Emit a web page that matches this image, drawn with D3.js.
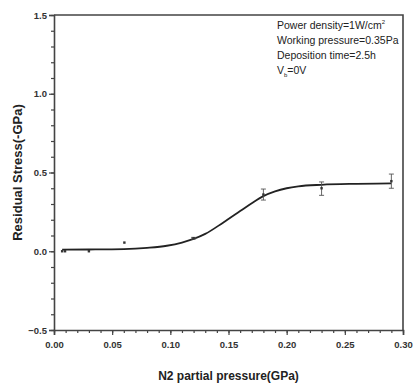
<!DOCTYPE html>
<html>
<head>
<meta charset="utf-8">
<script src="https://cdn.jsdelivr.net/npm/d3@7"></script>
<style>
  body { margin: 0; background: #fff; }
  svg { font-family: "Liberation Sans", Arial, sans-serif; }
  .tick text { font-size: 9.5px; font-weight: bold; fill: #333; }
</style>
</head>
<body>
<div id="vis"></div>
<script>
// measured points
let pointX = [0.007, 0.0095, 0.03, 0.0605, 0.12, 0.18, 0.23, 0.29];
let pointY = [0.0, 0.0, 0.0, 0.055, 0.083, 0.36, 0.40, 0.445];
let errLow = [0, 0, 0, 0, 0.005, 0.035, 0.045, 0.045];
let errHigh = [0, 0, 0, 0, 0.005, 0.035, 0.04, 0.045];

// fitted curve
let fitX = [0.007, 0.03, 0.06, 0.08, 0.097, 0.11, 0.12, 0.13, 0.145, 0.16, 0.17, 0.18, 0.19, 0.2, 0.21, 0.23, 0.26, 0.29];
let fitY = [0.01, 0.011, 0.014, 0.022, 0.035, 0.055, 0.078, 0.11, 0.18, 0.255, 0.305, 0.35, 0.38, 0.40, 0.412, 0.422, 0.428, 0.431];

let xTicks = [0.00, 0.05, 0.10, 0.15, 0.20, 0.25, 0.30];
let yTicks = [-0.5, 0.0, 0.5, 1.0, 1.5];

// annotation lines: [main text, sub/superscript, rest]
let notes = [
    ['Power density=1W/cm', '2', '', 'sup'],
    ['Working pressure=0.35Pa', '', '', ''],
    ['Deposition time=2.5h', '', '', ''],
    ['V', 'b', '=0V', 'sub']
];

let width = 414, height = 390;
let margin = {top: 15, right: 11, bottom: 60, left: 54};

let svg = d3.select('#vis')
    .append('svg')
    .attr('width', width)
    .attr('height', height);

let xScale = d3.scaleLinear()
    .domain([0, 0.3])
    .range([margin.left, width - margin.right]);

let yScale = d3.scaleLinear()
    .domain([-0.5, 1.5])
    .range([height - margin.bottom, margin.top]);

// minor ticks
let xMinor = d3.axisBottom(xScale)
    .tickValues(d3.range(0, 0.3001, 0.01))
    .tickSize(3)
    .tickFormat('');
let yMinor = d3.axisLeft(yScale)
    .tickValues(d3.range(-0.5, 1.5001, 0.1))
    .tickSize(3)
    .tickFormat('');

svg.append('g')
    .attr('transform', 'translate(0,' + (height - margin.bottom) + ')')
    .call(xMinor)
    .call(g => g.select('.domain').remove());
svg.append('g')
    .attr('transform', 'translate(' + margin.left + ',0)')
    .call(yMinor)
    .call(g => g.select('.domain').remove());

// major ticks
let xAxis = d3.axisBottom(xScale)
    .tickValues(xTicks)
    .tickSize(5)
    .tickPadding(6)
    .tickFormat(d3.format('.2f'));
let yAxis = d3.axisLeft(yScale)
    .tickValues(yTicks)
    .tickSize(5)
    .tickPadding(2)
    .tickFormat(d3.format('.1f'));

svg.append('g')
    .attr('transform', 'translate(0,' + (height - margin.bottom) + ')')
    .call(xAxis);
svg.append('g')
    .attr('transform', 'translate(' + margin.left + ',0)')
    .call(yAxis);

svg.selectAll('.domain').attr('stroke', '#444').attr('stroke-width', 1.6);
svg.selectAll('.tick line').attr('stroke', '#444').attr('stroke-width', 1.2);

// frame top/right
svg.append('path')
    .attr('d', 'M' + margin.left + ',' + yScale(1.5) + 'H' + xScale(0.3) + 'V' + yScale(-0.5))
    .attr('fill', 'none')
    .attr('stroke', '#444')
    .attr('stroke-width', 1.6);

// fit curve
let line = d3.line()
    .x(d => xScale(d[0]))
    .y(d => yScale(d[1]))
    .curve(d3.curveMonotoneX);

svg.append('path')
    .datum(fitX.map((x, i) => [x, fitY[i]]))
    .attr('d', line)
    .attr('fill', 'none')
    .attr('stroke', '#222')
    .attr('stroke-width', 1.8);

// error bars
let pts = pointX.map((x, i) => ({x: x, y: pointY[i], lo: errLow[i], hi: errHigh[i]}));
let eb = svg.selectAll('g.err')
    .data(pts.filter(d => d.lo > 0 || d.hi > 0))
    .enter()
    .append('g')
    .attr('class', 'err')
    .attr('stroke', '#555')
    .attr('stroke-width', 0.9);

eb.append('line')
    .attr('x1', d => xScale(d.x)).attr('x2', d => xScale(d.x))
    .attr('y1', d => yScale(d.y - d.lo)).attr('y2', d => yScale(d.y + d.hi));
eb.append('line')
    .attr('x1', d => xScale(d.x) - 2.5).attr('x2', d => xScale(d.x) + 2.5)
    .attr('y1', d => yScale(d.y - d.lo)).attr('y2', d => yScale(d.y - d.lo));
eb.append('line')
    .attr('x1', d => xScale(d.x) - 2.5).attr('x2', d => xScale(d.x) + 2.5)
    .attr('y1', d => yScale(d.y + d.hi)).attr('y2', d => yScale(d.y + d.hi));

// point markers
svg.selectAll('rect.pt')
    .data(pts)
    .enter()
    .append('rect')
    .attr('class', 'pt')
    .attr('x', d => xScale(d.x) - 1.2)
    .attr('y', d => yScale(d.y) - 1.2)
    .attr('width', 2.4)
    .attr('height', 2.4)
    .attr('fill', '#333');

// axis titles
svg.append('text')
    .attr('x', (margin.left + xScale(0.3)) / 2)
    .attr('y', 380)
    .attr('text-anchor', 'middle')
    .style('font-size', '12px')
    .style('font-weight', 'bold')
    .attr('fill', '#222')
    .text('N2 partial pressure(GPa)');

svg.append('text')
    .attr('transform', 'translate(22,' + yScale(0.5) + ') rotate(-90)')
    .attr('text-anchor', 'middle')
    .style('font-size', '13px')
    .style('font-weight', 'bold')
    .attr('fill', '#222')
    .text('Residual Stress(-GPa)');

// annotation
let note = svg.append('g')
    .attr('transform', 'translate(277,0)')
    .style('font-size', '10.5px')
    .attr('fill', '#222');

let noteText = note.selectAll('text')
    .data(notes)
    .enter()
    .append('text')
    .attr('x', 0)
    .attr('y', (d, i) => 29 + i * 15);

noteText.append('tspan').text(d => d[0]);
noteText.append('tspan')
    .style('font-size', '6px')
    .attr('dy', d => d[3] === 'sup' ? -5 : (d[3] === 'sub' ? 3 : 0))
    .text(d => d[1]);
noteText.append('tspan')
    .attr('dy', d => d[3] === 'sub' ? -3 : 0)
    .text(d => d[2]);
</script>
</body>
</html>
